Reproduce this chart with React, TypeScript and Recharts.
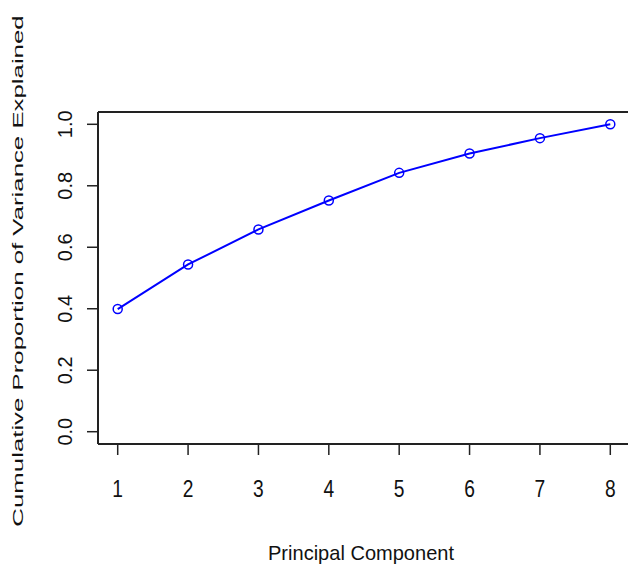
import React from "react";
import { LineChart, Line, XAxis, YAxis, ReferenceLine } from "recharts";

// principal components 1..8 and cumulative proportion of variance explained
const components = [1, 2, 3, 4, 5, 6, 7, 8];
const cumulative = [0.399, 0.544, 0.658, 0.752, 0.842, 0.905, 0.955, 1.0];
const yTicks = [0, 0.2, 0.4, 0.6, 0.8, 1.0];

const data = components.map((pc, i) => ({ pc, value: cumulative[i] }));

const FONT = "'Liberation Sans', Arial, sans-serif";

function XTick(props: any) {
    const { x, y, payload } = props;
    return (
        <text
            x={0}
            y={0}
            transform={`translate(${x},${y + 42}) scale(0.8,1)`}
            textAnchor="middle"
            fontSize={24}
            fontFamily={FONT}
            fill="#111"
        >
            {payload.value}
        </text>
    );
}

function YTick(props: any) {
    const { x, y, payload } = props;
    return (
        <text
            x={x}
            y={y}
            transform={`rotate(-90, ${x}, ${y})`}
            textAnchor="middle"
            fontSize={20}
            fontFamily={FONT}
            fill="#111"
        >
            {Number(payload.value).toFixed(1)}
        </text>
    );
}

export default function App() {
    return (
        <div style={{ position: "absolute", left: 0, top: 0, width: 628, height: 566, overflow: "hidden", background: "#fff" }}>
            <LineChart width={640} height={566} data={data} margin={{ top: 112, right: 10, bottom: 0, left: 0 }}>
                <XAxis
                    dataKey="pc"
                    type="number"
                    domain={[0.72, 8.28]}
                    ticks={components}
                    height={122}
                    tickSize={11}
                    tickMargin={0}
                    tick={<XTick />}
                    axisLine={{ stroke: "#222", strokeWidth: 2 }}
                    tickLine={{ stroke: "#222", strokeWidth: 1.5 }}
                    label={{
                        content: (p: any) => {
                            const vb = p.viewBox;
                            return (
                                <text
                                    x={vb.x + vb.width / 2 - 3}
                                    y={vb.y + 116}
                                    textAnchor="middle"
                                    fontSize={21}
                                    fontFamily={FONT}
                                    fill="#111"
                                    textLength={186}
                                    lengthAdjust="spacingAndGlyphs"
                                >
                                    Principal Component
                                </text>
                            );
                        },
                    }}
                />
                <YAxis
                    type="number"
                    domain={[-0.04, 1.04]}
                    ticks={yTicks}
                    width={98}
                    tickSize={11}
                    tickMargin={15}
                    tick={<YTick />}
                    axisLine={{ stroke: "#222", strokeWidth: 2 }}
                    tickLine={{ stroke: "#222", strokeWidth: 1.5 }}
                    label={{
                        content: (p: any) => {
                            const vb = p.viewBox;
                            const cx = 23;
                            const cy = vb.y + vb.height / 2 - 7;
                            return (
                                <text
                                    x={0}
                                    y={0}
                                    transform={`translate(${cx},${cy}) rotate(-90) scale(1.72,1)`}
                                    textAnchor="middle"
                                    fontSize={15}
                                    fontFamily={FONT}
                                    fill="#111"
                                >
                                    Cumulative Proportion of Variance Explained
                                </text>
                            );
                        },
                    }}
                />
                <ReferenceLine y={1.04} stroke="#222" strokeWidth={2} />
                <Line
                    type="linear"
                    dataKey="value"
                    stroke="#0000ff"
                    strokeWidth={2}
                    dot={{ r: 4.5, stroke: "#0000ff", strokeWidth: 1.5, fill: "none" }}
                    isAnimationActive={false}
                />
            </LineChart>
        </div>
    );
}
